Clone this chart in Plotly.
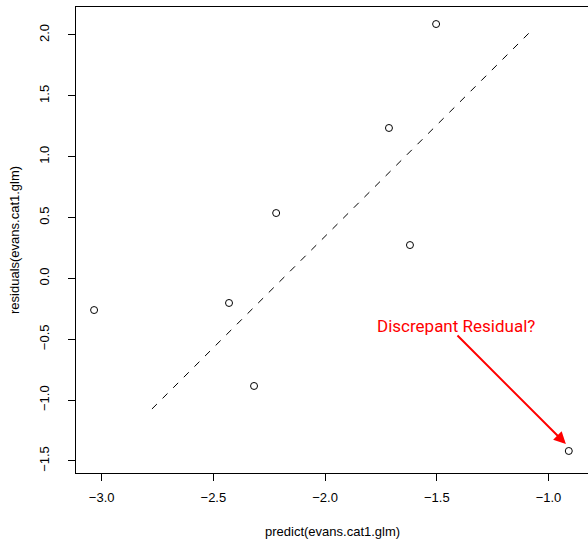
import plotly.graph_objects as go

# Data
pred = [-3.034, -2.430, -2.318, -2.219, -1.714, -1.503, -1.620, -0.909]
resid = [-0.26, -0.202, -0.884, 0.537, 1.236, 2.09, 0.274, -1.418]
line_x = [-2.775, -1.074]
line_y = [-1.073, 2.04]
x_ticks = [-3.0, -2.5, -2.0, -1.5, -1.0]
y_ticks = [-1.5, -1.0, -0.5, 0.0, 0.5, 1.0, 1.5, 2.0]
note_text = "Discrepant Residual?"
note_pos = (-1.414, -0.391)
arrow_from = (-1.414, -0.457)
arrow_to = (-0.922, -1.361)

fig = go.Figure()
fig.add_trace(go.Scatter(x=line_x, y=line_y, mode="lines",
                         line=dict(color="black", width=1, dash="7px,8px"),
                         showlegend=False, hoverinfo="skip"))
fig.add_trace(go.Scatter(x=pred, y=resid, mode="markers",
                         marker=dict(symbol="circle-open", size=7,
                                     color="black", line=dict(width=1)),
                         showlegend=False))

font = "Liberation Sans, Arial, sans-serif"
fig.add_annotation(x=note_pos[0], y=note_pos[1], xref="x", yref="y",
                   text=note_text, showarrow=False,
                   font=dict(family="Roboto, sans-serif", size=17, color="red"))
fig.add_annotation(x=arrow_to[0], y=arrow_to[1], ax=arrow_from[0], ay=arrow_from[1],
                   xref="x", yref="y", axref="x", ayref="y", text="",
                   showarrow=True, arrowhead=2, arrowsize=1.2, arrowwidth=2,
                   arrowcolor="red")
fig.add_annotation(xref="paper", yref="paper", x=0.5, y=0, yshift=-58,
                   xanchor="center", yanchor="middle",
                   text="predict(evans.cat1.glm)", showarrow=False,
                   font=dict(family=font, size=13, color="black"))
fig.add_annotation(xref="paper", yref="paper", x=0, y=0.5, xshift=-62,
                   xanchor="center", yanchor="middle",
                   text="residuals(evans.cat1.glm)", showarrow=False, textangle=-90,
                   font=dict(family=font, size=13, color="black"))

axis_common = dict(showgrid=False, zeroline=False, showline=True, linecolor="black",
                   linewidth=1, ticks="outside", ticklen=7, tickcolor="black",
                   tickwidth=1, automargin=False,
                   tickfont=dict(family=font, size=13, color="black"))
fig.update_xaxes(range=[-3.115, -0.823], tickvals=x_ticks,
                 ticktext=[f"{v:.1f}".replace("-", "\u2212") for v in x_ticks],
                 mirror=True, ticklabelstandoff=5, **axis_common)
fig.update_yaxes(range=[-1.599, 2.23], tickvals=y_ticks,
                 ticktext=[f"{v:.1f}".replace("-", "\u2212") for v in y_ticks],
                 tickangle=-90, mirror=False, ticklabelstandoff=14, **axis_common)
fig.update_layout(width=588, height=541, margin=dict(l=76, r=0, t=7, b=68),
                  paper_bgcolor="white", plot_bgcolor="white")
fig.write_html("out.html", config={"displayModeBar": False},
               post_script="document.body.style.margin='0';document.body.style.overflow='hidden';")
